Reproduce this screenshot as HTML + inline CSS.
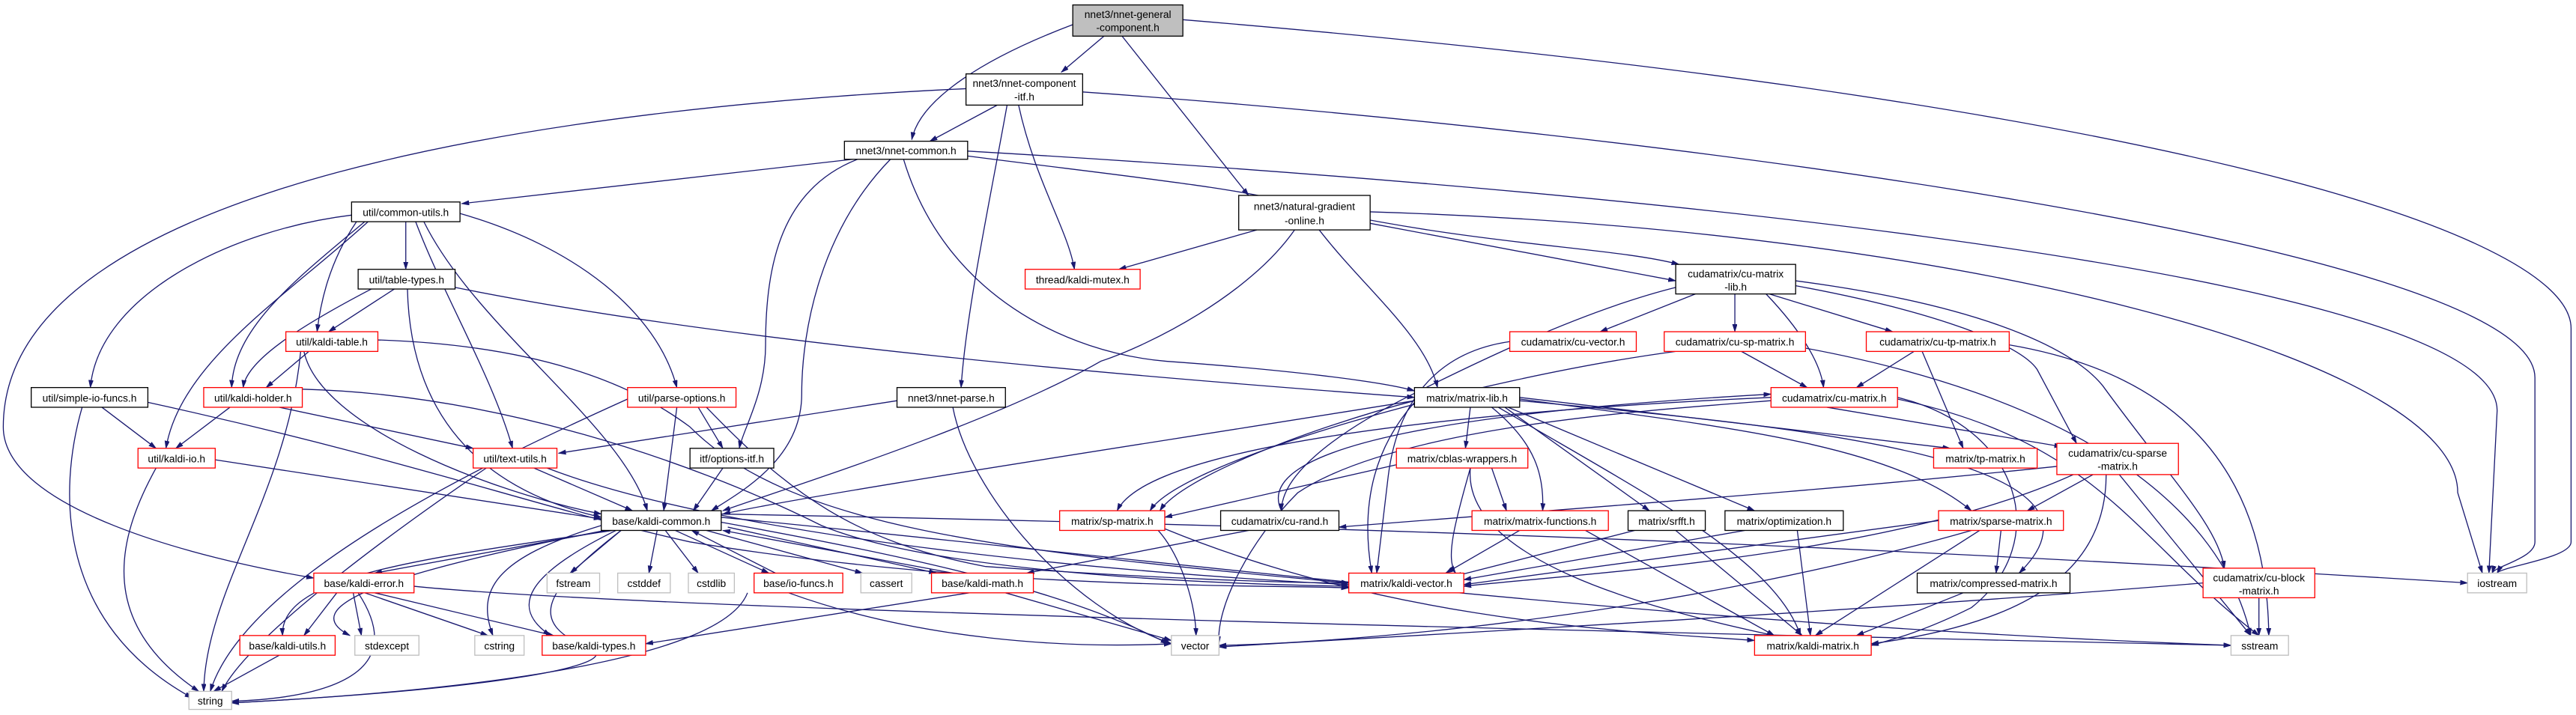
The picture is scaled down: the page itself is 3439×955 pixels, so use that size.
<!DOCTYPE html>
<html><head><meta charset="utf-8"><style>
html,body{margin:0;padding:0;background:#fff;}
svg{display:block;}
text{font-family:"Liberation Sans",sans-serif;font-size:6.3px;fill:#000;text-anchor:middle;}
.e{fill:none;stroke:#191970;stroke-width:0.6;marker-end:url(#a);}
.b{fill:#fff;stroke:#000;stroke-width:0.6;}
.r{fill:#fff;stroke:#ff0000;stroke-width:0.6;}
.g{fill:#fff;stroke:#bfbfbf;stroke-width:0.6;}
</style></head><body>
<svg width="3439" height="955" viewBox="0 0 1568 435.4" preserveAspectRatio="none" xmlns="http://www.w3.org/2000/svg">
<defs><marker id="a" markerUnits="userSpaceOnUse" markerWidth="6" markerHeight="4" refX="4.5" refY="1.4" orient="auto"><path d="M0,0 L4.5,1.4 L0,2.8 z" fill="#191970" stroke="#191970" stroke-width="0.3"/></marker></defs>
<g>
<path class="e" d="M672,22 L646,44"/>
<path class="e" d="M653,15 C600,35 560,60 555,85"/>
<path class="e" d="M683,22 L760,119"/>
<path class="e" d="M720,12 C1300,60 1565,140 1565,200 L1565,330 C1565,340 1522,345 1520,349"/>
<path class="e" d="M659,56 C1000,80 1543,150 1543,230 L1543,330 C1543,340 1518,345 1517,349"/>
<path class="e" d="M589,92 C900,110 1520,160 1520,250 L1515,349"/>
<path class="e" d="M834,129 C1200,140 1496,220 1496,300 L1511,349"/>
<path class="e" d="M588,54 C350,65 2,110 2,260 C2,310 120,340 191,352"/>
<path class="e" d="M607,64 L566,86"/>
<path class="e" d="M613,64 C603,120 588,190 585,236"/>
<path class="e" d="M620,64 C630,110 650,140 654,164"/>
<path class="e" d="M519,97 L281,124"/>
<path class="e" d="M522,97 C476,115 466,160 466,210 C466,240 452,262 450,273"/>
<path class="e" d="M542,97 C500,140 488,200 488,240 C488,280 450,300 433,311"/>
<path class="e" d="M550,97 C575,180 650,215 710,220 C780,225 840,232 861,238"/>
<path class="e" d="M589,95 C690,108 760,115 790,125 C900,150 980,150 1022,161"/>
<path class="e" d="M765,140 L681,164"/>
<path class="e" d="M788,140 C760,180 700,210 670,220 C600,260 470,300 440,311"/>
<path class="e" d="M803,140 C830,175 868,205 875,236"/>
<path class="e" d="M834,136 L1020,171"/>
<path class="e" d="M1032,179 L974,202"/>
<path class="e" d="M1056,179 L1056,202"/>
<path class="e" d="M1077,179 L1152,202"/>
<path class="e" d="M1075,179 C1095,200 1108,220 1110,236"/>
<path class="e" d="M1093,174 C1180,190 1230,210 1240,225 L1264,270"/>
<path class="e" d="M1093,171 C1200,185 1260,210 1280,235 C1320,290 1350,320 1354,346"/>
<path class="e" d="M1020,175 C960,190 890,225 860,240 C810,265 780,290 780,311"/>
<path class="e" d="M214,131 C140,140 60,180 55,236"/>
<path class="e" d="M222,135 C180,170 142,200 141,236"/>
<path class="e" d="M217,135 C200,160 195,185 193,202"/>
<path class="e" d="M247,135 L247,164"/>
<path class="e" d="M224,135 C175,180 110,220 101,273"/>
<path class="e" d="M253,135 C270,180 300,230 312,273"/>
<path class="e" d="M280,130 C350,150 400,190 412,236"/>
<path class="e" d="M258,135 C290,200 380,260 394,311"/>
<path class="e" d="M240,176 L200,202"/>
<path class="e" d="M226,176 C180,200 150,220 148,236"/>
<path class="e" d="M248,176 C250,260 300,300 366,315"/>
<path class="e" d="M277,175 C450,210 700,230 861,242"/>
<path class="e" d="M188,214 L162,236"/>
<path class="e" d="M183,214 C175,300 125,360 124,421"/>
<path class="e" d="M230,207 C320,210 380,230 420,260 C480,320 600,335 821,355"/>
<path class="e" d="M185,214 C195,260 300,300 366,313"/>
<path class="e" d="M62,248 L95,273"/>
<path class="e" d="M50,248 C35,300 35,380 117,425"/>
<path class="e" d="M90,245 C250,280 330,310 420,330 C600,360 780,356 821,358"/>
<path class="e" d="M140,248 L107,273"/>
<path class="e" d="M170,248 L288,273"/>
<path class="e" d="M184,237 C300,240 420,280 500,320 C560,345 700,355 821,357"/>
<path class="e" d="M425,248 L440,273"/>
<path class="e" d="M412,248 L404,311"/>
<path class="e" d="M382,243 C300,280 150,350 128,421"/>
<path class="e" d="M430,248 C480,300 520,330 600,345 C700,352 780,355 821,355"/>
<path class="e" d="M546,244 L340,276"/>
<path class="e" d="M580,248 C590,300 650,370 713,392"/>
<path class="e" d="M131,280 L366,316"/>
<path class="e" d="M95,285 C70,330 60,380 121,421"/>
<path class="e" d="M325,285 L385,311"/>
<path class="e" d="M296,285 C230,330 150,390 135,421"/>
<path class="e" d="M333,285 C450,330 700,350 821,356"/>
<path class="e" d="M440,285 L422,311"/>
<path class="e" d="M370,323 L228,349"/>
<path class="e" d="M378,323 L347,349"/>
<path class="e" d="M400,323 L395,349"/>
<path class="e" d="M405,323 L425,349"/>
<path class="e" d="M411,323 L468,349"/>
<path class="e" d="M430,323 L525,349"/>
<path class="e" d="M443,321 L570,349"/>
<path class="e" d="M373,323 C260,340 170,350 172,387"/>
<path class="e" d="M368,323 C230,350 180,370 213,387"/>
<path class="e" d="M366,320 C300,340 290,360 300,387"/>
<path class="e" d="M375,323 C320,350 310,370 335,387"/>
<path class="e" d="M378,323 C330,360 320,380 360,395 C380,405 300,420 141,428"/>
<path class="e" d="M439,318 C560,340 650,360 711,392"/>
<path class="e" d="M439,313 C800,320 1100,330 1502,355"/>
<path class="e" d="M439,315 C700,340 1000,380 1358,393"/>
<path class="e" d="M472,349 L421,323"/>
<path class="e" d="M580,349 L440,323"/>
<path class="e" d="M205,361 L185,387"/>
<path class="e" d="M215,361 L220,387"/>
<path class="e" d="M222,361 L297,387"/>
<path class="e" d="M228,361 L337,387"/>
<path class="e" d="M218,361 C250,410 200,425 141,427"/>
<path class="e" d="M252,357 C400,372 1000,385 1358,393"/>
<path class="e" d="M455,361 C440,400 300,420 141,428"/>
<path class="e" d="M480,361 C560,390 650,395 713,392"/>
<path class="e" d="M590,361 L393,392"/>
<path class="e" d="M612,361 L713,390"/>
<path class="e" d="M170,399 L130,421"/>
<path class="e" d="M705,323 C720,340 728,370 728,387"/>
<path class="e" d="M861,244 C700,270 500,300 440,313"/>
<path class="e" d="M861,244 C800,260 720,290 706,311"/>
<path class="e" d="M895,248 L892,273"/>
<path class="e" d="M908,248 C935,270 940,290 939,311"/>
<path class="e" d="M916,248 L1004,311"/>
<path class="e" d="M918,248 L1068,311"/>
<path class="e" d="M925,242 L1187,273"/>
<path class="e" d="M925,243 C1050,260 1150,270 1200,311"/>
<path class="e" d="M925,244 C1100,260 1300,280 1229,349"/>
<path class="e" d="M912,248 C1000,300 1080,340 1096,387"/>
<path class="e" d="M861,245 C830,280 830,320 835,349"/>
<path class="e" d="M1112,248 L1255,272"/>
<path class="e" d="M780,311 C760,270 900,250 1078,240"/>
<path class="e" d="M1078,244 C1000,250 850,260 790,300 C760,330 740,370 742,392"/>
<path class="e" d="M1078,242 C900,250 700,270 680,311"/>
<path class="e" d="M1155,242 C1230,260 1250,330 1200,370 C1170,385 1150,390 1139,393"/>
<path class="e" d="M1155,243 C1280,270 1300,330 1375,387"/>
<path class="e" d="M919,208 C870,215 850,250 845,290 L838,349"/>
<path class="e" d="M1060,214 L1100,236"/>
<path class="e" d="M1020,214 C900,230 720,280 700,311"/>
<path class="e" d="M1099,212 C1250,240 1350,300 1370,387"/>
<path class="e" d="M1165,214 L1130,236"/>
<path class="e" d="M1170,214 L1195,273"/>
<path class="e" d="M1223,210 C1340,230 1380,300 1381,387"/>
<path class="e" d="M850,283 L709,315"/>
<path class="e" d="M908,285 L917,311"/>
<path class="e" d="M895,285 C885,320 880,340 886,349"/>
<path class="e" d="M895,285 C890,340 1000,370 1080,387"/>
<path class="e" d="M1252,284 C1100,300 950,310 815,321"/>
<path class="e" d="M1274,289 L1234,311"/>
<path class="e" d="M1282,289 C1282,350 1230,380 1139,392"/>
<path class="e" d="M1290,289 L1370,387"/>
<path class="e" d="M1262,289 C1150,340 950,350 891,357"/>
<path class="e" d="M925,323 L880,349"/>
<path class="e" d="M965,323 L1080,387"/>
<path class="e" d="M995,323 L885,351"/>
<path class="e" d="M1020,323 L1097,387"/>
<path class="e" d="M1062,323 L891,353"/>
<path class="e" d="M1094,323 L1102,387"/>
<path class="e" d="M1180,317 L891,356"/>
<path class="e" d="M1218,323 L1215,349"/>
<path class="e" d="M1205,323 L1105,387"/>
<path class="e" d="M1200,323 C1000,380 800,392 742,393"/>
<path class="e" d="M1195,361 L1130,387"/>
<path class="e" d="M1341,355 C1100,375 800,390 742,394"/>
<path class="e" d="M1375,364 L1375,387"/>
<path class="e" d="M760,323 L625,349"/>
<path class="e" d="M709,322 C850,380 1000,385 1068,390"/>
</g>
<g>
<rect x="653" y="3" width="67" height="19" fill="#bfbfbf" stroke="#000" stroke-width="0.6"/><text x="686.5" y="11">nnet3/nnet-general</text><text x="686.5" y="19">-component.h</text>
<rect class="b" x="588" y="45" width="71" height="19"/><text x="623.5" y="53">nnet3/nnet-component</text><text x="623.5" y="61">-itf.h</text>
<rect class="b" x="514" y="86" width="75" height="11"/><text x="551.5" y="94">nnet3/nnet-common.h</text>
<rect class="b" x="214" y="123" width="66" height="12"/><text x="247" y="131.5">util/common-utils.h</text>
<rect class="b" x="754" y="119" width="80" height="21"/><text x="794" y="128">nnet3/natural-gradient</text><text x="794" y="136.5">-online.h</text>
<rect class="b" x="1020" y="161" width="73" height="18"/><text x="1056.5" y="169">cudamatrix/cu-matrix</text><text x="1056.5" y="177">-lib.h</text>
<rect class="b" x="218" y="164" width="59" height="12"/><text x="247.5" y="172.5">util/table-types.h</text>
<rect class="r" x="624" y="164" width="70" height="12"/><text x="659" y="172.5">thread/kaldi-mutex.h</text>
<rect class="r" x="174" y="202" width="56" height="12"/><text x="202" y="210.5">util/kaldi-table.h</text>
<rect class="r" x="919" y="202" width="77" height="12"/><text x="957.5" y="210.5">cudamatrix/cu-vector.h</text>
<rect class="r" x="1013" y="202" width="86" height="12"/><text x="1056" y="210.5">cudamatrix/cu-sp-matrix.h</text>
<rect class="r" x="1136" y="202" width="87" height="12"/><text x="1179.5" y="210.5">cudamatrix/cu-tp-matrix.h</text>
<rect class="b" x="19" y="236" width="71" height="12"/><text x="54.5" y="244.5">util/simple-io-funcs.h</text>
<rect class="r" x="124" y="236" width="60" height="12"/><text x="154" y="244.5">util/kaldi-holder.h</text>
<rect class="r" x="382" y="236" width="66" height="12"/><text x="415" y="244.5">util/parse-options.h</text>
<rect class="b" x="546" y="236" width="66" height="12"/><text x="579" y="244.5">nnet3/nnet-parse.h</text>
<rect class="b" x="861" y="236" width="64" height="12"/><text x="893" y="244.5">matrix/matrix-lib.h</text>
<rect class="r" x="1078" y="236" width="77" height="12"/><text x="1116.5" y="244.5">cudamatrix/cu-matrix.h</text>
<rect class="r" x="84" y="273" width="47" height="12"/><text x="107.5" y="281.5">util/kaldi-io.h</text>
<rect class="r" x="288" y="273" width="51" height="12"/><text x="313.5" y="281.5">util/text-utils.h</text>
<rect class="b" x="420" y="273" width="51" height="12"/><text x="445.5" y="281.5">itf/options-itf.h</text>
<rect class="r" x="850" y="273" width="80" height="12"/><text x="890" y="281.5">matrix/cblas-wrappers.h</text>
<rect class="r" x="1177" y="273" width="63" height="12"/><text x="1208.5" y="281.5">matrix/tp-matrix.h</text>
<rect class="r" x="1252" y="270" width="74" height="19"/><text x="1289" y="278">cudamatrix/cu-sparse</text><text x="1289" y="286">-matrix.h</text>
<rect class="b" x="366" y="311" width="73" height="12"/><text x="402.5" y="319.5">base/kaldi-common.h</text>
<rect class="r" x="645" y="311" width="64" height="12"/><text x="677" y="319.5">matrix/sp-matrix.h</text>
<rect class="b" x="743" y="311" width="72" height="12"/><text x="779" y="319.5">cudamatrix/cu-rand.h</text>
<rect class="r" x="896" y="311" width="83" height="12"/><text x="937.5" y="319.5">matrix/matrix-functions.h</text>
<rect class="b" x="991" y="311" width="47" height="12"/><text x="1014.5" y="319.5">matrix/srfft.h</text>
<rect class="b" x="1050" y="311" width="72" height="12"/><text x="1086" y="319.5">matrix/optimization.h</text>
<rect class="r" x="1180" y="311" width="76" height="12"/><text x="1218" y="319.5">matrix/sparse-matrix.h</text>
<rect class="r" x="191" y="349" width="61" height="12"/><text x="221.5" y="357.5">base/kaldi-error.h</text>
<rect class="g" x="333" y="349" width="32" height="12"/><text x="349" y="357.5">fstream</text>
<rect class="g" x="376" y="349" width="32" height="12"/><text x="392" y="357.5">cstddef</text>
<rect class="g" x="419" y="349" width="28" height="12"/><text x="433" y="357.5">cstdlib</text>
<rect class="r" x="459" y="349" width="54" height="12"/><text x="486" y="357.5">base/io-funcs.h</text>
<rect class="g" x="524" y="349" width="31" height="12"/><text x="539.5" y="357.5">cassert</text>
<rect class="r" x="567" y="349" width="62" height="12"/><text x="598" y="357.5">base/kaldi-math.h</text>
<rect class="r" x="821" y="349" width="70" height="12"/><text x="856" y="357.5">matrix/kaldi-vector.h</text>
<rect class="b" x="1167" y="349" width="93" height="12"/><text x="1213.5" y="357.5">matrix/compressed-matrix.h</text>
<rect class="r" x="1341" y="346" width="68" height="18"/><text x="1375" y="354">cudamatrix/cu-block</text><text x="1375" y="362">-matrix.h</text>
<rect class="g" x="1502" y="349" width="36" height="12"/><text x="1520" y="357.5">iostream</text>
<rect class="r" x="146" y="387" width="58" height="12"/><text x="175" y="395.5">base/kaldi-utils.h</text>
<rect class="g" x="216" y="387" width="39" height="12"/><text x="235.5" y="395.5">stdexcept</text>
<rect class="g" x="289" y="387" width="30" height="12"/><text x="304" y="395.5">cstring</text>
<rect class="r" x="330" y="387" width="63" height="12"/><text x="361.5" y="395.5">base/kaldi-types.h</text>
<rect class="g" x="713" y="387" width="29" height="12"/><text x="727.5" y="395.5">vector</text>
<rect class="r" x="1068" y="387" width="71" height="12"/><text x="1103.5" y="395.5">matrix/kaldi-matrix.h</text>
<rect class="g" x="1358" y="387" width="35" height="12"/><text x="1375.5" y="395.5">sstream</text>
<rect class="g" x="115" y="421" width="26" height="11"/><text x="128" y="429">string</text>
</g>
</svg>
</body></html>
